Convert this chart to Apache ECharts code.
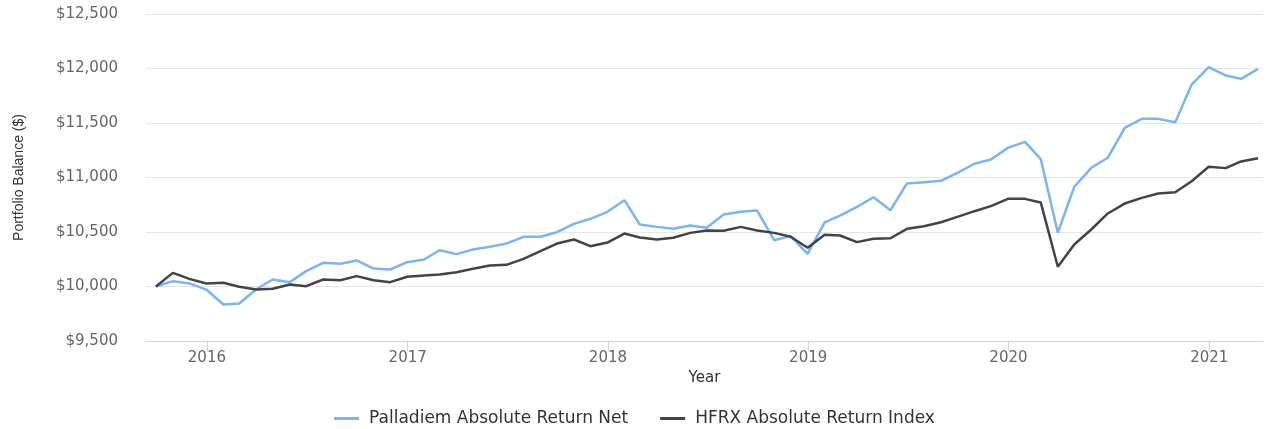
<!DOCTYPE html>
<html>
<head>
<meta charset="utf-8">
<script src="https://cdn.jsdelivr.net/npm/echarts@6/dist/echarts.min.js"></script>
<style>
html,body{margin:0;padding:0;background:#fff;}
#chart{width:1269px;height:429px;}
</style>
</head>
<body>
<div id="chart"></div>
<script>
const dates = ['2015-09-30','2015-10-31','2015-11-30','2015-12-31','2016-01-31','2016-02-29','2016-03-31','2016-04-30','2016-05-31','2016-06-30','2016-07-31','2016-08-31','2016-09-30','2016-10-31','2016-11-30','2016-12-31','2017-01-31','2017-02-28','2017-03-31','2017-04-30','2017-05-31','2017-06-30','2017-07-31','2017-08-31','2017-09-30','2017-10-31','2017-11-30','2017-12-31','2018-01-31','2018-02-28','2018-03-31','2018-04-30','2018-05-31','2018-06-30','2018-07-31','2018-08-31','2018-09-30','2018-10-31','2018-11-30','2018-12-31','2019-01-31','2019-02-28','2019-03-31','2019-04-30','2019-05-31','2019-06-30','2019-07-31','2019-08-31','2019-09-30','2019-10-31','2019-11-30','2019-12-31','2020-01-31','2020-02-29','2020-03-31','2020-04-30','2020-05-31','2020-06-30','2020-07-31','2020-08-31','2020-09-30','2020-10-31','2020-11-30','2020-12-31','2021-01-31','2021-02-28','2021-03-31'];

const palladiem = [10000,10049,10028,9972,9835,9844,9975,10064,10040,10141,10217,10208,10239,10165,10156,10223,10248,10333,10297,10339,10364,10394,10456,10456,10498,10575,10621,10685,10792,10569,10547,10529,10560,10538,10660,10685,10697,10425,10462,10300,10588,10651,10731,10819,10700,10945,10957,10970,11043,11126,11165,11272,11327,11168,10493,10915,11089,11181,11456,11538,11538,11507,11853,12012,11936,11905,11997];

const hfrx = [10000,10125,10070,10028,10034,9997,9972,9979,10018,10003,10064,10058,10095,10058,10040,10089,10101,10110,10131,10162,10193,10199,10254,10324,10394,10431,10370,10403,10486,10450,10431,10447,10492,10514,10511,10547,10514,10492,10456,10355,10475,10468,10407,10438,10443,10529,10553,10590,10639,10691,10737,10804,10804,10770,10181,10385,10523,10670,10761,10813,10853,10865,10966,11098,11086,11147,11177];

const yearTicks = [2016, 2017, 2018, 2019, 2020, 2021];
const seriesNames = ['Palladiem Absolute Return Net', 'HFRX Absolute Return Index'];

function toTime(s) {
  const p = s.split('-').map(Number);
  return Date.UTC(p[0], p[1] - 1, p[2]);
}
const tickTimes = yearTicks.map(y => Date.UTC(y, 0, 1));
const pair = (vals) => vals.map((v, i) => [toTime(dates[i]), v]);

const chart = echarts.init(document.getElementById('chart'), null, {renderer: 'canvas'});

chart.setOption({
  animation: false,
  backgroundColor: '#ffffff',
  grid: {left: 146, right: 6, top: 14, bottom: 88, containLabel: false},
  legend: {
    bottom: -3,
    left: 'center',
    itemWidth: 25,
    itemHeight: 3,
    itemGap: 32,
    icon: 'rect',
    textStyle: {fontFamily: 'DejaVu Sans', fontSize: 17, color: '#333333', padding: [0, 0, 0, 5]},
    data: seriesNames
  },
  xAxis: {
    type: 'value',
    min: toTime('2015-09-12'),
    max: toTime('2021-04-09'),
    name: 'Year',
    nameLocation: 'middle',
    nameGap: 26,
    nameTextStyle: {fontFamily: 'DejaVu Sans', fontSize: 15, color: '#333333'},
    axisLine: {show: true, lineStyle: {color: '#ccd6eb', width: 1}},
    axisTick: {show: true, length: 10, lineStyle: {color: '#ccd6eb'}, customValues: tickTimes},
    axisLabel: {
      color: '#666666', fontFamily: 'DejaVu Sans', fontSize: 15, margin: 10,
      customValues: tickTimes,
      formatter: (v) => String(new Date(v).getUTCFullYear())
    },
    splitLine: {show: false}
  },
  yAxis: {
    type: 'value',
    min: 9500,
    max: 12500,
    interval: 500,
    name: 'Portfolio Balance ($)',
    nameLocation: 'middle',
    nameRotate: 90,
    nameGap: 120,
    nameTextStyle: {fontFamily: 'Liberation Sans', fontSize: 14, color: '#333333'},
    axisLine: {show: false},
    axisTick: {show: false},
    axisLabel: {
      color: '#666666', fontFamily: 'DejaVu Sans', fontSize: 15, margin: 28,
      formatter: (v) => '$' + v.toLocaleString('en-US')
    },
    splitLine: {show: true, lineStyle: {color: '#e6e6e6', width: 1}}
  },
  series: [
    {
      name: seriesNames[0], type: 'line', data: pair(palladiem),
      symbol: 'none', lineStyle: {color: '#7cb5ec', width: 2.5}, itemStyle: {color: '#7cb5ec'}, z: 2
    },
    {
      name: seriesNames[1], type: 'line', data: pair(hfrx),
      symbol: 'none', lineStyle: {color: '#434348', width: 2.5}, itemStyle: {color: '#434348'}, z: 3
    }
  ]
});
</script>
</body>
</html>
